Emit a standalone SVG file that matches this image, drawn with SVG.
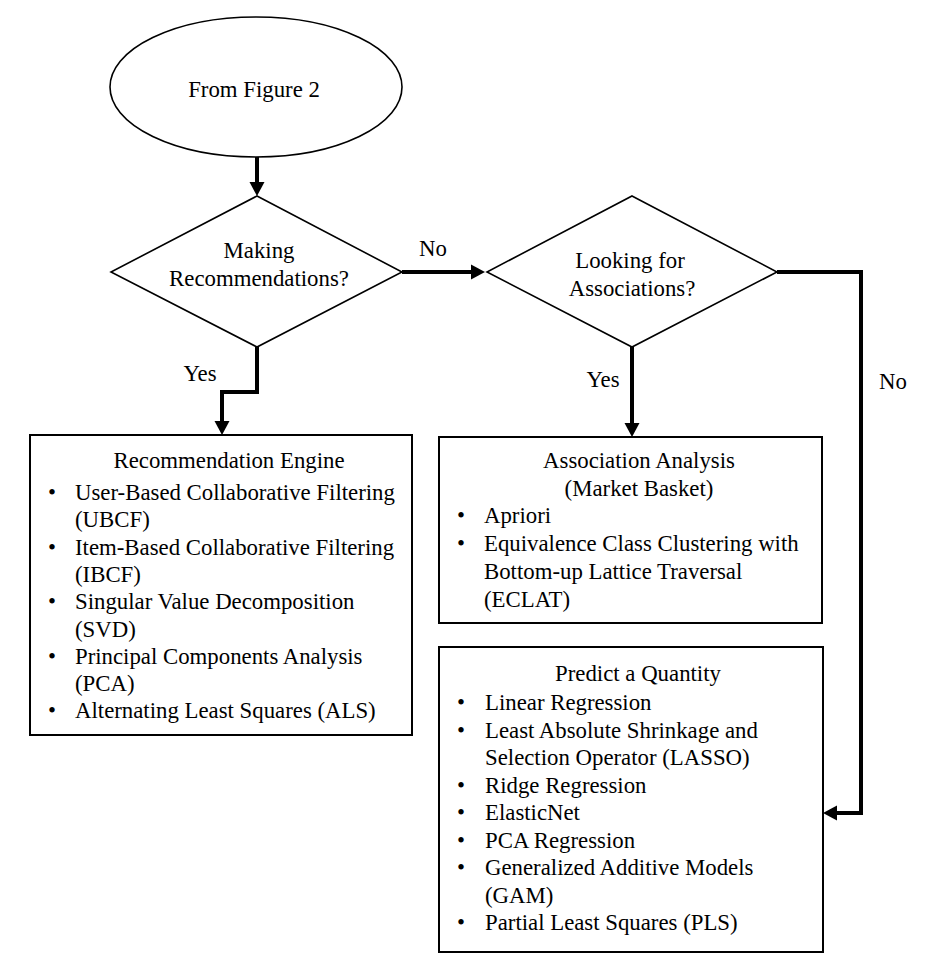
<svg xmlns="http://www.w3.org/2000/svg" width="932" height="970" viewBox="0 0 932 970">
<style>
  .t { font-family: "Liberation Serif", "Times New Roman", serif; font-size: 22.8px; fill: #000; }
  .c { text-anchor: middle; }
  .shape { fill: #fff; stroke: #000; stroke-width: 1.6; }
  .box { fill: #fff; stroke: #000; stroke-width: 2; }
  .conn { fill: none; stroke: #000; stroke-width: 4; stroke-linejoin: miter; stroke-linecap: butt; marker-end: url(#arr); }
</style>
<defs>
  <marker id="arr" markerUnits="userSpaceOnUse" markerWidth="16" markerHeight="16" viewBox="0 0 16 16" refX="2" refY="8" orient="auto">
    <path d="M0,0.5 L14,8 L0,15.5 z" fill="#000"/>
  </marker>
</defs>
<rect width="932" height="970" fill="#fff"/>

<g id="start">
  <ellipse class="shape" cx="256" cy="87" rx="146" ry="70"/>
  <text class="t c" x="254" y="97">From Figure 2</text>
</g>

<g id="decision-recommend">
  <polygon class="shape" points="257,196 402,272 257,347 111,272"/>
  <text class="t c" x="259" y="258">Making</text>
  <text class="t c" x="259" y="286">Recommendations?</text>
</g>

<g id="decision-assoc">
  <polygon class="shape" points="632,196 777,272 632,347 487,272"/>
  <text class="t c" x="630" y="268">Looking for</text>
  <text class="t c" x="632" y="296">Associations?</text>
</g>

<g id="recommendation-engine">
  <rect class="box" x="30" y="435" width="382" height="300"/>
  <text class="t c" x="229" y="468">Recommendation Engine</text>
  <g class="t">
    <text x="48" y="500">•</text><text x="75" y="500">User-Based Collaborative Filtering</text>
    <text x="75" y="527.3">(UBCF)</text>
    <text x="48" y="554.6">•</text><text x="75" y="554.6">Item-Based Collaborative Filtering</text>
    <text x="75" y="581.9">(IBCF)</text>
    <text x="48" y="609.2">•</text><text x="75" y="609.2">Singular Value Decomposition</text>
    <text x="75" y="636.5">(SVD)</text>
    <text x="48" y="663.8">•</text><text x="75" y="663.8">Principal Components Analysis</text>
    <text x="75" y="691.1">(PCA)</text>
    <text x="48" y="718.4">•</text><text x="75" y="718.4">Alternating Least Squares (ALS)</text>
  </g>
</g>

<g id="association-analysis">
  <rect class="box" x="439" y="437" width="383" height="186"/>
  <text class="t c" x="639" y="468">Association Analysis</text>
  <text class="t c" x="639" y="495.5">(Market Basket)</text>
  <g class="t">
    <text x="457" y="523">•</text><text x="484" y="523">Apriori</text>
    <text x="457" y="551">•</text><text x="484" y="551">Equivalence Class Clustering with</text>
    <text x="484" y="579">Bottom-up Lattice Traversal</text>
    <text x="484" y="607">(ECLAT)</text>
  </g>
</g>

<g id="predict-quantity">
  <rect class="box" x="439" y="647" width="384" height="305"/>
  <text class="t c" x="638" y="681">Predict a Quantity</text>
  <g class="t">
    <text x="457" y="710">•</text><text x="485" y="710">Linear Regression</text>
    <text x="457" y="737.5">•</text><text x="485" y="737.5">Least Absolute Shrinkage and</text>
    <text x="485" y="765">Selection Operator (LASSO)</text>
    <text x="457" y="792.5">•</text><text x="485" y="792.5">Ridge Regression</text>
    <text x="457" y="820">•</text><text x="485" y="820">ElasticNet</text>
    <text x="457" y="847.5">•</text><text x="485" y="847.5">PCA Regression</text>
    <text x="457" y="875">•</text><text x="485" y="875">Generalized Additive Models</text>
    <text x="485" y="902.5">(GAM)</text>
    <text x="457" y="930">•</text><text x="485" y="930">Partial Least Squares (PLS)</text>
  </g>
</g>

<g id="connectors">
  <polyline class="conn" points="257,157 257,184"/>
  <polyline class="conn" points="402,272 473,272"/>
  <polyline class="conn" points="257,347 257,392 222,392 222,423"/>
  <polyline class="conn" points="632,347 632,425"/>
  <polyline class="conn" points="777,272 861,272 861,813 835,813"/>
  <text class="t c" x="433" y="256">No</text>
  <text class="t c" x="200" y="381">Yes</text>
  <text class="t c" x="603" y="387">Yes</text>
  <text class="t c" x="893" y="389">No</text>
</g>
</svg>
